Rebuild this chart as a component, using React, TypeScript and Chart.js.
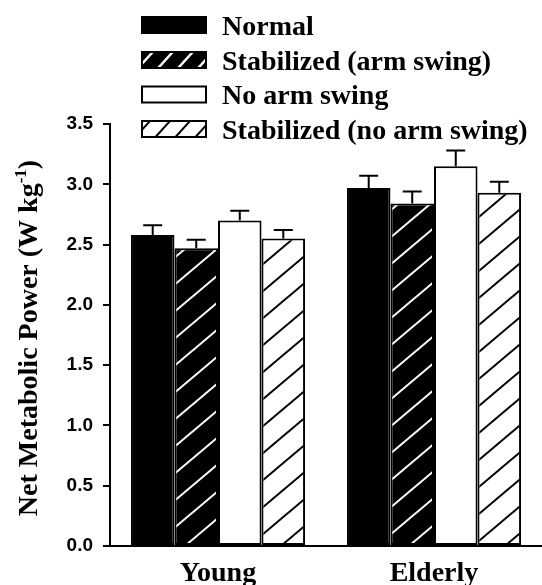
import React, { useEffect, useRef } from 'react';
import { Chart, registerables } from 'chart.js';

Chart.register(...registerables);

// ---- data ----
const groups = ['Young', 'Elderly'];
const seriesNames = ['Normal', 'Stabilized (arm swing)', 'No arm swing', 'Stabilized (no arm swing)'];
const normal = [2.58, 2.97];
const stabArm = [2.47, 2.84];
const noArm = [2.70, 3.15];
const stabNoArm = [2.55, 2.93];
const normalErr = [0.08, 0.10];
const stabArmErr = [0.07, 0.10];
const noArmErr = [0.08, 0.13];
const stabNoArmErr = [0.07, 0.09];
const yMin = 0;
const yMax = 3.5;
const yStep = 0.5;
const yTitle = 'Net Metabolic Power (W kg';
const yTitleSup = '-1';
const yTitleEnd = ')';

const SERIF = '"Liberation Serif", "Times New Roman", serif';
const SANS = '"Liberation Sans", Arial, sans-serif';

function makePattern(bg: string, fg: string, w: number, h: number, lw: number): CanvasPattern | string {
  const c = document.createElement('canvas');
  c.width = w;
  c.height = h;
  const g = c.getContext('2d');
  if (!g) return bg;
  g.fillStyle = bg;
  g.fillRect(0, 0, w, h);
  g.strokeStyle = fg;
  g.lineWidth = lw;
  for (const k of [-1, 0, 1]) {
    g.beginPath();
    g.moveTo(k * w - 3, h + (3 * h) / w);
    g.lineTo(k * w + w + 3, -(3 * h) / w);
    g.stroke();
  }
  return g.createPattern(c, 'repeat') || bg;
}

export default function App() {
  const ref = useRef<HTMLCanvasElement | null>(null);

  useEffect(() => {
    const canvas = ref.current;
    if (!canvas) return;

    const blackHatch = makePattern('#000', '#fff', 32, 27, 2);
    const whiteHatch = makePattern('#fff', '#000', 32, 27, 2);
    const blackHatchLeg = makePattern('#000', '#fff', 20, 22, 2.5);
    const whiteHatchLeg = makePattern('#fff', '#000', 20, 22, 2);

    const fills = ['#000', blackHatch, '#fff', whiteHatch];
    const legFills = ['#000', blackHatchLeg, '#fff', whiteHatchLeg];
    const values = [normal, stabArm, noArm, stabNoArm];
    const errors = [normalErr, stabArmErr, noArmErr, stabNoArmErr];

    const errorBars = {
      id: 'errorBars',
      afterDatasetsDraw(chart: any) {
        const ctx = chart.ctx;
        const ys = chart.scales.y;
        ctx.save();
        ctx.strokeStyle = '#000';
        ctx.lineWidth = 2;
        chart.data.datasets.forEach((ds: any, i: number) => {
          const meta = chart.getDatasetMeta(i);
          meta.data.forEach((el: any, j: number) => {
            const top = ys.getPixelForValue(ds.data[j] + ds.errors[j]);
            ctx.beginPath();
            ctx.moveTo(el.x, el.y);
            ctx.lineTo(el.x, top);
            ctx.moveTo(el.x - 9.5, top);
            ctx.lineTo(el.x + 9.5, top);
            ctx.stroke();
          });
        });
        ctx.restore();
      },
    };

    const legendAndTitle = {
      id: 'legendAndTitle',
      afterDraw(chart: any) {
        const ctx = chart.ctx;
        ctx.save();
        // legend
        const rows = [25, 60, 94.5, 129];
        seriesNames.forEach((name, i) => {
          const cy = rows[i];
          const bx = 142, bw = 64, bh = 16;
          ctx.fillStyle = legFills[i];
          ctx.fillRect(bx, cy - bh / 2, bw, bh);
          ctx.strokeStyle = '#000';
          ctx.lineWidth = 2;
          ctx.strokeRect(bx, cy - bh / 2, bw, bh);
          ctx.fillStyle = '#000';
          ctx.font = `bold 28px ${SERIF}`;
          ctx.textAlign = 'left';
          ctx.textBaseline = 'alphabetic';
          ctx.fillText(name, 222, cy + 9.5);
        });
        // y title with superscript
        ctx.translate(28, 338);
        ctx.rotate(-Math.PI / 2);
        const mainFont = `bold 28px ${SERIF}`;
        const supFont = `bold 17px ${SERIF}`;
        ctx.font = mainFont;
        const wa = ctx.measureText(yTitle).width;
        const wc = ctx.measureText(yTitleEnd).width;
        ctx.font = supFont;
        const ws = ctx.measureText(yTitleSup).width;
        let x = -(wa + ws + wc) / 2;
        ctx.textAlign = 'left';
        ctx.textBaseline = 'alphabetic';
        ctx.fillStyle = '#000';
        ctx.font = mainFont;
        ctx.fillText(yTitle, x, 9);
        x += wa;
        ctx.font = supFont;
        ctx.fillText(yTitleSup, x, -2);
        x += ws;
        ctx.font = mainFont;
        ctx.fillText(yTitleEnd, x, 9);
        ctx.restore();
      },
    };

    const chart = new Chart(canvas, {
      type: 'bar',
      data: {
        labels: groups,
        datasets: seriesNames.map((name, i) => ({
          label: name,
          data: values[i],
          errors: errors[i],
          backgroundColor: fills[i],
          borderColor: '#000',
          borderWidth: 2,
          borderSkipped: false,
          categoryPercentage: 0.806,
          barPercentage: 1.0,
        })) as any,
      },
      options: {
        responsive: false,
        animation: false,
        layout: { padding: { top: 124, right: 0, left: 0, bottom: 0 } },
        plugins: {
          legend: { display: false },
          tooltip: { enabled: false },
          title: { display: false },
        },
        scales: {
          x: {
            grid: { display: false, drawTicks: false },
            border: { display: true, color: '#000', width: 2 },
            ticks: {
              color: '#000',
              font: { family: SERIF, size: 28, weight: 'bold' },
              padding: 11,
            },
            afterFit: (s: any) => {
              s.height = 39;
            },
          },
          y: {
            min: yMin,
            max: yMax,
            grid: {
              display: true,
              drawOnChartArea: false,
              drawTicks: true,
              tickLength: 7,
              color: '#000',
              lineWidth: 2,
            },
            border: { display: true, color: '#000', width: 2 },
            ticks: {
              stepSize: yStep,
              color: '#000',
              padding: 10,
              font: { family: SANS, size: 19, weight: 'bold' },
              callback: (v: any) => Number(v).toFixed(1),
            },
            afterFit: (s: any) => {
              s.width = 110;
            },
          },
        },
      },
      plugins: [errorBars, legendAndTitle],
    } as any);

    return () => chart.destroy();
  }, []);

  return (
    <div style={{ position: 'absolute', left: 0, top: 0, width: 542, height: 585, background: '#fff' }}>
      <canvas ref={ref} width={542} height={585} style={{ display: 'block' }} />
    </div>
  );
}
